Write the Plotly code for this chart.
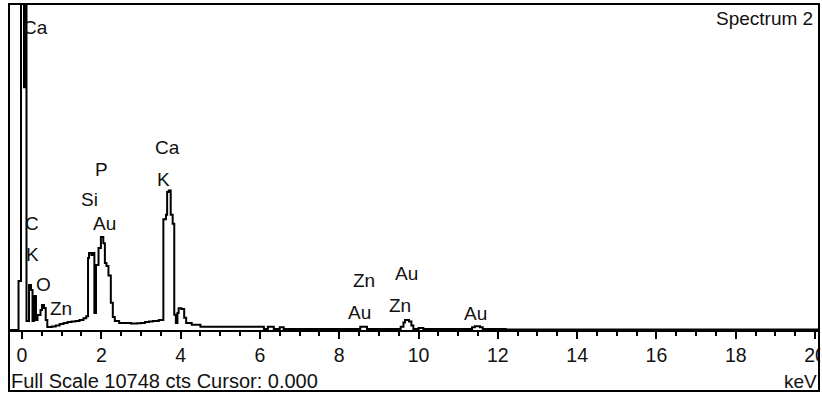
import plotly.graph_objects as go

# ---- data: EDS spectrum (energy in keV, counts), stepped ----
energy_kev = [-0.33, -0.088, -0.025, 0.050, 0.063, 0.113, 0.177, 0.227, 0.265, 0.303,
              0.353, 0.391, 0.467, 0.504, 0.555, 0.598, 0.638, 0.75, 0.85, 0.95,
              1.05, 1.15, 1.25, 1.35, 1.45, 1.55, 1.62, 1.665, 1.69, 1.75,
              1.79, 1.825, 1.866, 1.93, 1.99, 2.05, 2.09, 2.13, 2.18, 2.24,
              2.29, 2.34, 2.45, 2.6, 2.75, 2.9, 3.0, 3.1, 3.2, 3.3,
              3.45, 3.565, 3.63, 3.66, 3.70, 3.75, 3.80, 3.84, 3.88, 3.92,
              3.95, 4.02, 4.09, 4.14, 4.28, 4.5, 5.2, 6.1, 6.2, 6.35,
              6.5, 6.6, 7.5, 8.53, 8.7, 9.55, 9.62, 9.66, 9.76, 9.82,
              9.87, 10.0, 10.12, 11.35, 11.42, 11.55, 11.62, 12.2, 20.2]
counts = [0, 1616, 14000, 8000, 14000, 297, 1484, 1319, 297, 1121,
          330, 495, 660, 824, 725, 330, 99, 115, 150, 200,
          230, 260, 280, 300, 330, 390, 450, 2370, 2540, 2470,
          2540, 560, 2140, 2700, 3070, 2860, 2210, 2110, 1800, 900,
          430, 300, 230, 230, 215, 220, 230, 260, 280, 300,
          330, 3650, 3800, 4550, 4600, 3800, 3500, 500, 230, 560,
          720, 690, 400, 230, 170, 110, 105, 35, 110, 35,
          90, 35, 30, 110, 30, 110, 250, 330, 280, 150,
          35, 70, 30, 90, 120, 90, 30, 20, 20]

# ---- peak labels ----
label_text = ["Ca", "C", "K", "O", "Zn", "Si", "P", "Au", "Ca", "K",
              "Zn", "Au", "Au", "Zn", "Au"]
label_energy = [0.328, 0.24, 0.277, 0.530, 0.984, 1.690, 2.005, 2.068, 3.670, 3.569,
                8.626, 9.697, 8.499, 9.533, 11.425]
label_counts = [9957, 3495, 2473, 1484, 725, 4319, 5308, 3495, 6001, 4946,
                1616, 1879, 593, 824, 560]

full_scale = 10748
x_ticks = [0, 2, 4, 6, 8, 10, 12, 14, 16, 18, 20]

FONT = "Arial, Liberation Sans, sans-serif"

fig = go.Figure()
fig.add_trace(go.Scatter(
    x=energy_kev, y=counts, mode="lines", line_shape="hv",
    line=dict(color="black", width=2), hoverinfo="skip", showlegend=False))

for t, ex, cy in zip(label_text, label_energy, label_counts):
    fig.add_annotation(x=ex, y=cy, xref="x", yref="y", text=t, showarrow=False,
                       font=dict(family=FONT, size=19, color="#111"),
                       xanchor="center", yanchor="middle")

W, H = 822, 394
ml, mr, mt, mb = 9, 3, 4, 64
pw, ph = W - ml - mr, H - mt - mb


def px_x(p):
    return (p - ml) / pw


def px_y(p):
    return (H - mb - p) / ph


fig.add_annotation(x=px_x(9), y=px_y(381), xref="paper", yref="paper",
                   text="Full Scale %d cts Cursor: 0.000" % full_scale, showarrow=False,
                   xanchor="left", yanchor="middle",
                   font=dict(family=FONT, size=20, color="#111"))
fig.add_annotation(x=px_x(819), y=px_y(381), xref="paper", yref="paper",
                   text="keV", showarrow=False, xanchor="right", yanchor="middle",
                   font=dict(family=FONT, size=19, color="#111"))
fig.add_annotation(x=px_x(815), y=px_y(19), xref="paper", yref="paper",
                   text="Spectrum 2", showarrow=False, xanchor="right", yanchor="middle",
                   font=dict(family=FONT, size=19, color="#111"))

# outer frame
fig.add_shape(type="rect", xref="paper", yref="paper",
              x0=0, x1=1, y0=px_y(391), y1=1,
              line=dict(color="black", width=2), fillcolor="rgba(0,0,0,0)", layer="above")
# mask beyond right frame
fig.add_shape(type="rect", xref="paper", yref="paper",
              x0=px_x(820.2), x1=px_x(830), y0=px_y(400), y1=px_y(-5),
              line=dict(width=0), fillcolor="white", layer="above")

fig.update_layout(
    width=W, height=H,
    margin=dict(l=ml, r=mr, t=mt, b=mb, autoexpand=False),
    paper_bgcolor="white", plot_bgcolor="white",
    xaxis=dict(range=[-0.328, 20.1], tickvals=x_ticks, ticks="outside", ticklen=7,
               tickwidth=1.5, tickcolor="black", showline=True, linecolor="black",
               linewidth=2, showgrid=False, zeroline=False, ticklabeloverflow="allow",
               automargin=False,
               tickfont=dict(family=FONT, size=19.5, color="#111"),
               minor=dict(dtick=0.5, tick0=0, ticks="outside", ticklen=4,
                          tickwidth=1.5, tickcolor="black", showgrid=False)),
    yaxis=dict(range=[0, full_scale], visible=False, showgrid=False, zeroline=False),
)

fig.write_html("out.html")
